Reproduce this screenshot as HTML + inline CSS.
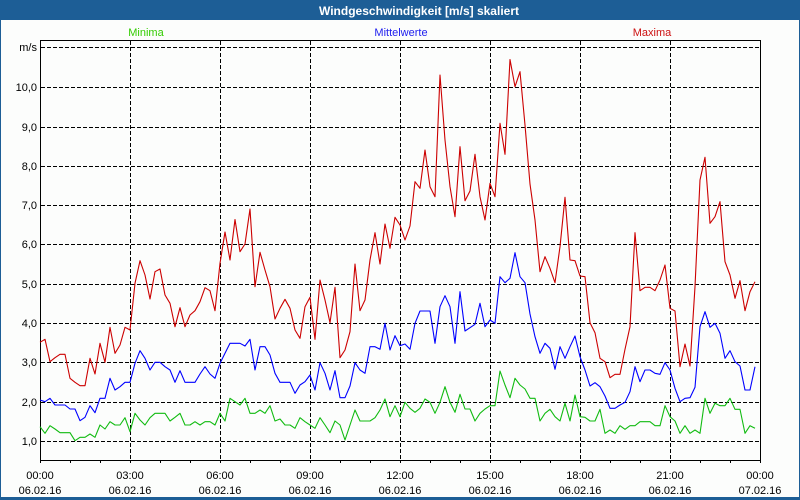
<!DOCTYPE html>
<html><head><meta charset="utf-8"><style>
html,body{margin:0;padding:0;background:#1d5e96;}
svg{display:block;}
text{font-family:"Liberation Sans",sans-serif;}
</style></head><body>
<svg width="800" height="500" viewBox="0 0 800 500" xmlns="http://www.w3.org/2000/svg">
<rect x="0" y="0" width="800" height="500" fill="#1d5e96"/>
<rect x="1" y="20" width="798" height="477" fill="#fcfdfc"/>
<text x="419" y="15" fill="#ffffff" font-size="12" font-weight="bold" text-anchor="middle" textLength="200" lengthAdjust="spacingAndGlyphs">Windgeschwindigkeit [m/s] skaliert</text>
<text x="146" y="36" fill="#33cc00" font-size="11" text-anchor="middle">Minima</text>
<text x="401" y="36" fill="#2020ee" font-size="11" text-anchor="middle">Mittelwerte</text>
<text x="652" y="36" fill="#cc1010" font-size="11" text-anchor="middle">Maxima</text>
<g stroke="#000" stroke-width="1" stroke-dasharray="4,2" shape-rendering="crispEdges" fill="none">
<path d="M41 47.5H760M41 87.5H760M41 127.5H760M41 166.5H760M41 205.5H760M41 244.5H760M41 284.5H760M41 323.5H760M41 362.5H760M41 402.5H760M41 441.5H760"/>
<path d="M130.5 41V460M220.5 41V460M310.5 41V460M400.5 41V460M490.5 41V460M580.5 41V460M670.5 41V460"/>
</g>
<g stroke="#000" stroke-width="1" shape-rendering="crispEdges" fill="none">
<rect x="40.5" y="40.5" width="720" height="420"/>
<path d="M70.5 460V463M100.5 460V463M130.5 460V463M160.5 460V463M190.5 460V463M220.5 460V463M250.5 460V463M280.5 460V463M310.5 460V463M340.5 460V463M370.5 460V463M400.5 460V463M430.5 460V463M460.5 460V463M490.5 460V463M520.5 460V463M550.5 460V463M580.5 460V463M610.5 460V463M640.5 460V463M670.5 460V463M700.5 460V463M730.5 460V463M40.5 460V463M760.5 460V463"/>
</g>
<g font-size="11" fill="#000" text-anchor="end">
<text x="37" y="51">m/s</text>
<text x="37" y="91">10,0</text>
<text x="37" y="131">9,0</text>
<text x="37" y="170">8,0</text>
<text x="37" y="209">7,0</text>
<text x="37" y="248">6,0</text>
<text x="37" y="288">5,0</text>
<text x="37" y="327">4,0</text>
<text x="37" y="366">3,0</text>
<text x="37" y="406">2,0</text>
<text x="37" y="445">1,0</text>
</g>
<g font-size="11" fill="#000" text-anchor="middle">
<text x="40" y="479">00:00</text><text x="40" y="494">06.02.16</text>
<text x="130" y="479">03:00</text><text x="130" y="494">06.02.16</text>
<text x="220" y="479">06:00</text><text x="220" y="494">06.02.16</text>
<text x="310" y="479">09:00</text><text x="310" y="494">06.02.16</text>
<text x="400" y="479">12:00</text><text x="400" y="494">06.02.16</text>
<text x="490" y="479">15:00</text><text x="490" y="494">06.02.16</text>
<text x="580" y="479">18:00</text><text x="580" y="494">06.02.16</text>
<text x="670" y="479">21:00</text><text x="670" y="494">06.02.16</text>
<text x="760" y="479">00:00</text><text x="760" y="494">07.02.16</text>
</g>
<g fill="none" stroke-width="1.1" stroke-linejoin="round">
<polyline stroke="#cc0000" points="40,342.3 45,339.3 50,361.7 55,357.7 60,354.3 65,354.3 70,378.3 75,382.3 80,385.7 85,385.7 90,358.3 95,374 100,343.3 105,362.3 110,327.3 115,353.3 120,345 125,327.3 130,330 135,283.3 140,260.7 145,275 150,299 155,271.7 160,269 165,295 170,303.3 175,326.7 180,307.7 185,326.7 190,315 195,310.7 200,301.7 205,287.7 210,290.7 215,310.7 220,263.3 225,232 230,260 235,219.5 240,251.7 245,244 250,209 255,286.7 260,252.3 265,270 270,286.7 275,319 280,308.3 285,299.3 290,308.3 295,330 300,338.3 305,306.7 310,297.3 315,339.3 320,280 325,300 330,322.7 335,287.3 340,357.7 345,350 350,331.7 355,264 360,310.7 365,300 370,260 375,232.7 380,264 385,224 390,248.3 395,217.3 400,225 405,240 410,226 415,181.7 420,188.3 425,150 430,186.7 435,196.7 440,75 445,140 450,186.7 455,216.7 460,146.7 465,200.7 470,191 475,154.3 480,196.7 485,220 490,183.3 495,196.7 500,123.3 505,154.3 510,59.5 515,86.7 520,71.7 525,125 530,184 535,220 540,271.7 545,256.7 550,268.3 555,282.7 560,246.7 565,197.3 570,260 575,260.7 580,276 585,276.7 590,322.7 595,332.7 600,358.3 605,361.7 610,377.7 615,374.3 620,374.3 625,349.3 630,326.7 635,232.7 640,290.7 645,287.3 650,287.3 655,290.7 660,280 665,265 670,308.3 675,311 680,366.7 685,344 690,366 695,286.7 700,180 705,157.3 710,223.3 715,216.7 720,201.7 725,261.7 730,275 735,298.3 740,280.7 745,310.7 750,291.7 755,281.7"/>
<polyline stroke="#0000ff" points="40,400 45,401.7 50,398.3 55,405 60,405 65,405 70,409 75,409 80,420.7 85,417.3 90,405.7 95,412.7 100,398.3 105,398.3 110,378.3 115,390 120,386.7 125,382.3 130,382.3 135,363.3 140,350.7 145,358.3 150,370 155,362.3 160,362.3 165,366.7 170,370 175,382.3 180,370.7 185,382.3 190,382.3 195,382.3 200,374 205,366.7 210,374 215,378.3 220,363.3 225,353.3 230,343.3 235,343.3 240,343.3 245,346 250,339.3 255,370 260,346.7 265,346.7 270,355 275,373.3 280,382.3 285,382.3 290,382.3 295,393.3 300,385 305,381.7 310,375 315,390 320,362.7 325,373.3 330,390 335,370.7 340,397.7 345,397.7 350,386 355,362.7 360,370 365,373.3 370,346.7 375,346.7 380,349.3 385,323.3 390,350 395,335.7 400,345.7 405,344 410,349.3 415,323.3 420,311 425,311 430,311 435,343.3 440,306.7 445,295.7 450,306.7 455,343.3 460,291.7 465,331 470,327.7 475,324.3 480,303.3 485,326.7 490,320 495,323.3 500,276.7 505,282.7 510,278.3 515,252.7 520,276.7 525,282.7 530,314 535,336.7 540,353.3 545,343.3 550,348.3 555,369.3 560,346.7 565,358.3 570,346.7 575,336 580,356.7 585,370 590,386 595,382.7 600,386.7 605,396 610,408.3 615,408.3 620,405 625,402.3 630,391.7 635,366.7 640,381.7 645,370 650,370 655,373.3 660,374.3 665,362.7 670,370 675,388.3 680,401.7 685,398.3 690,397.7 695,387.3 700,326.7 705,311.7 710,327.3 715,323.3 720,333.3 725,358.3 730,350.7 735,361.7 740,366 745,390 750,390 755,366.7"/>
<polyline stroke="#11bb11" points="40,426.7 45,433.3 50,425.7 55,429 60,432.7 65,432.7 70,432.7 75,440.7 80,437.3 85,437.3 90,434 95,437.3 100,425 105,429 110,421.7 115,425 120,425 125,417.7 130,431.7 135,413.3 140,420 145,425 150,417.7 155,413.3 160,413.3 165,413.3 170,421 175,417.3 180,413.3 185,425 190,425 195,421.7 200,425 205,421.7 210,421.7 215,425 220,413.3 225,421 230,398.3 235,401.7 240,405 245,398.3 250,413.3 255,413.3 260,410 265,413.3 270,405.7 275,421 280,419 285,425 290,425 295,428.3 300,417.7 305,421.7 310,425 315,428.3 320,417.7 325,425 330,432.7 335,421 340,425 345,440 350,425 355,410 360,421 365,421 370,421 375,417.7 380,410 385,399 390,416.7 395,405.7 400,416.7 405,402.3 410,408.3 415,412.3 420,408.3 425,399 430,402.3 435,413.3 440,402.3 445,386.7 450,402.3 455,412.3 460,394.3 465,409 470,409 475,421 480,413.3 485,409 490,405.7 495,405.7 500,371 505,385 510,397.7 515,378.3 520,385 525,389 530,398.3 535,398.3 540,421 545,413.3 550,409.3 555,416.7 560,421 565,403.3 570,421 575,395 580,416.7 585,417.3 590,421 595,421 600,409.3 605,433.3 610,430 615,433.3 620,425.7 625,429.3 630,425.7 635,425.7 640,421.7 645,421.7 650,421.7 655,425.7 660,425.7 665,405.7 670,416.7 675,421 680,433.3 685,425.7 690,433.3 695,430 700,433.3 705,398.3 710,413.3 715,403.3 720,405.7 725,405.7 730,398.3 735,409.3 740,409.3 745,433.3 750,425.7 755,428.3"/>
</g>
</svg>
</body></html>
